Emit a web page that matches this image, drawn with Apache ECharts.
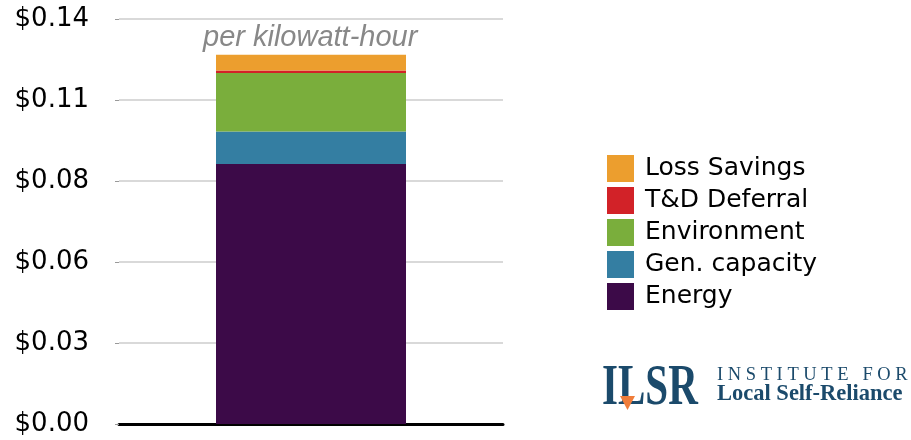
<!DOCTYPE html>
<html>
<head>
<meta charset="utf-8">
<script src="https://cdn.jsdelivr.net/npm/echarts@6/dist/echarts.min.js"></script>
<style>
  html, body { margin: 0; padding: 0; background: #fff; }
  #chart { width: 911px; height: 440px; }
</style>
</head>
<body>
<div id="chart"></div>
<script>
// stacked value bar, per kWh
const categories = ['Value']
const energy = [0.0899]
const genCapacity = [0.0112]
const environment = [0.0202]
const tdDeferral = [0.0009]
const lossSavings = [0.0054]
const yTicks = [0, 0.028, 0.056, 0.084, 0.112, 0.14]

const chart = echarts.init(document.getElementById('chart'))

const seg = (name, data, color) => ({
  name: name,
  type: 'bar',
  stack: 'total',
  data: data,
  barWidth: 190,
  itemStyle: { color: color },
  emphasis: { disabled: true }
})

const option = {
  animation: false,
  grid: { left: 119, right: 408, top: 19, bottom: 16 },
  xAxis: {
    type: 'category',
    data: categories,
    axisLine: { lineStyle: { color: '#000', width: 3 } },
    axisTick: { show: false },
    axisLabel: { show: false }
  },
  yAxis: {
    type: 'value',
    min: 0,
    max: yTicks[yTicks.length - 1],
    interval: yTicks[1],
    axisLine: { show: false },
    axisTick: { show: true, length: 4, lineStyle: { color: '#999' } },
    splitLine: { lineStyle: { color: '#cccccc', width: 1.5 } },
    axisLabel: {
      color: '#000',
      fontSize: 26,
      fontFamily: 'DejaVu Sans',
      margin: 30,
      formatter: v => '$' + v.toFixed(2)
    }
  },
  legend: {
    orient: 'vertical',
    left: 602,
    top: 150,
    itemWidth: 27,
    itemHeight: 27,
    itemGap: 5,
    icon: 'rect',
    selectedMode: false,
    data: ['Loss Savings', 'T&D Deferral', 'Environment', 'Gen. capacity', 'Energy'],
    textStyle: { fontSize: 25, fontFamily: 'DejaVu Sans', color: '#000', padding: [0, 0, 0, 6] }
  },
  graphic: [
    {
      type: 'text', left: 203, top: 23,
      style: { text: 'per kilowatt-hour', fontSize: 29, fontStyle: 'italic', fontFamily: 'Liberation Sans', fill: '#888' }
    },
    {
      type: 'text', x: 602, y: 361, scaleX: 0.72,
      style: { text: 'ILSR', fontSize: 57, fontWeight: 'bold', fontFamily: 'Liberation Serif', fill: '#1b4a6b' }
    },
    {
      type: 'polygon',
      shape: { points: [[620, 396], [635, 396], [627.5, 410]] },
      style: { fill: '#f07d3a' }
    },
    {
      type: 'text', left: 717, top: 366,
      style: { text: 'I N S T I T U T E   F O R', fontSize: 18.5, fontFamily: 'Liberation Serif', fill: '#1b4a6b' }
    },
    {
      type: 'text', left: 717, top: 383,
      style: { text: 'Local Self-Reliance', fontSize: 22.5, fontWeight: 'bold', fontFamily: 'Liberation Serif', fill: '#1b4a6b' }
    }
  ],
  series: [
    seg('Energy', energy, '#3c0a48'),
    seg('Gen. capacity', genCapacity, '#347ea2'),
    seg('Environment', environment, '#7aae3c'),
    seg('T&D Deferral', tdDeferral, '#d22228'),
    seg('Loss Savings', lossSavings, '#ec9e2e')
  ]
}

chart.setOption(option)
</script>
</body>
</html>
